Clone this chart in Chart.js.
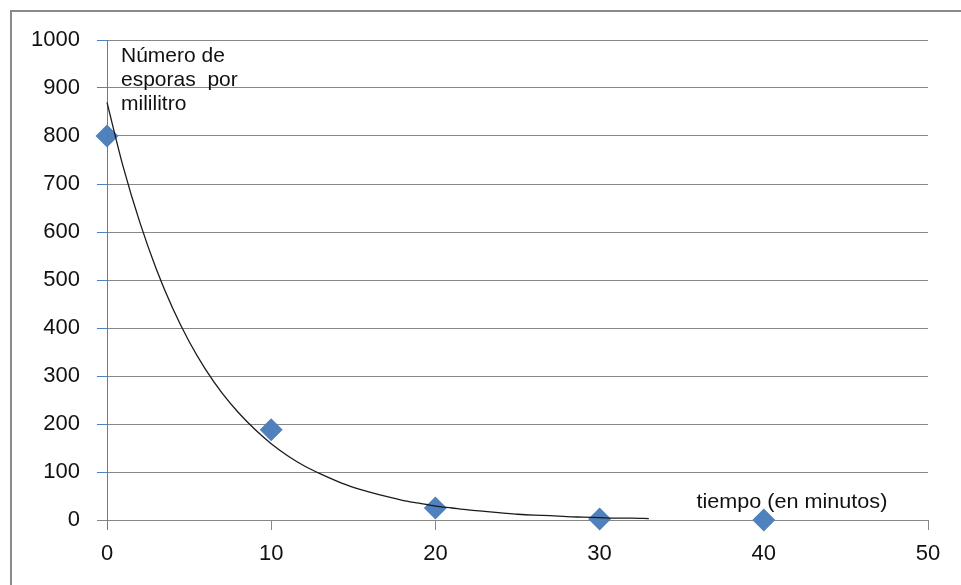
<!DOCTYPE html>
<html><head><meta charset="utf-8">
<script src="https://cdn.jsdelivr.net/npm/chart.js@4/dist/chart.umd.min.js"></script>
<style>html,body{margin:0;padding:0;background:#fff}#wrap{width:961px;height:585px}</style>
</head><body><div id="wrap"><canvas id="c" width="961" height="585"></canvas></div>
<script>
const minutes = [0, 10, 20, 30, 40];
const spores = [800, 188, 25, 2, 0];
const trendX = [0,1,2,3,4,5,6,7,8,9,10,11,12,13,14,15,16,17,18,19,20,21,22,23,24,25,26,27,28,29,30,31,32,33];
const trendY = [870,734,620,523,441,372,314,265,224,189,159,134,113,96,81,68,58,49,41,35,29,25,21,18,15,12,10,9,7,6,5,4,4,3];
const xTicks = [0,10,20,30,40,50];
const yTicks = [0,100,200,300,400,500,600,700,800,900,1000];
const yTitle = ['Número de', 'esporas  por', 'mililitro'];
const xTitle = 'tiempo (en minutos)';

const BLUE = '#4F81BD';
const GRID = '#878787';
const FONT = '"Liberation Sans", Arial, sans-serif';

const framePlugin = {
  id: 'frame',
  beforeDraw(chart) {
    const ctx = chart.ctx;
    ctx.save();
    ctx.fillStyle = '#fff';
    ctx.fillRect(0, 0, chart.width, chart.height);
    ctx.strokeStyle = '#8a8a8a';
    ctx.lineWidth = 2;
    ctx.beginPath();
    ctx.moveTo(11, chart.height + 2);
    ctx.lineTo(11, 11);
    ctx.lineTo(chart.width + 2, 11);
    ctx.stroke();
    ctx.restore();
  },
  afterDraw(chart) {
    const ctx = chart.ctx;
    const xs = chart.scales.x, ys = chart.scales.y;
    ctx.save();
    ctx.fillStyle = '#111';
    ctx.font = '21px ' + FONT;
    ctx.textBaseline = 'middle';
    ctx.textAlign = 'left';
    const x0 = xs.getPixelForValue(0) + 14;
    const yStart = ys.getPixelForValue(1000) + 16;
    yTitle.forEach((t, i) => ctx.fillText(t, x0, yStart + i * 24));
    ctx.font = '20px ' + FONT;
    ctx.save();
    ctx.translate(xs.getPixelForValue(35.9), ys.getPixelForValue(0) - 18);
    ctx.scale(1.08, 1);
    ctx.fillText(xTitle, 0, 0);
    ctx.restore();
    ctx.restore();
  }
};

new Chart(document.getElementById('c'), {
  type: 'scatter',
  data: {
    datasets: [
      {
        type: 'line',
        data: trendX.map((x, i) => ({x, y: trendY[i]})),
        borderColor: '#1a1a1a',
        borderWidth: 1.3,
        pointRadius: 0,
        tension: 0.4,
        cubicInterpolationMode: 'monotone',
        fill: false,
        order: 0
      },
      {
        data: minutes.map((x, i) => ({x, y: spores[i]})),
        pointStyle: 'rectRot',
        pointRadius: 11.5,
        pointHoverRadius: 11.5,
        backgroundColor: BLUE,
        borderColor: BLUE,
        borderWidth: 0,
        order: 1
      }
    ]
  },
  options: {
    responsive: false,
    animation: false,
    events: [],
    clip: false,
    layout: { padding: { top: 40, right: 33, left: 0, bottom: 0 } },
    plugins: { legend: { display: false }, tooltip: { enabled: false } },
    scales: {
      x: {
        type: 'linear', min: 0, max: 50,
        afterBuildTicks: s => { s.ticks = xTicks.map(v => ({value: v})); },
        afterFit: s => { s.height = 65; },
        grid: {
          drawOnChartArea: false, drawTicks: true, tickLength: 10,
          tickColor: c => c.tick && c.tick.value === 0 ? BLUE : GRID
        },
        border: { color: GRID, width: 1 },
        ticks: { color: '#111', font: { family: FONT, size: 22 }, padding: 11, maxRotation: 0,
                 callback: v => String(v) }
      },
      y: {
        type: 'linear', min: 0, max: 1000,
        afterBuildTicks: s => { s.ticks = yTicks.map(v => ({value: v})); },
        afterFit: s => { s.width = 107; },
        grid: {
          color: GRID, lineWidth: 1, drawTicks: true, tickLength: 10,
          tickColor: c => c.tick && c.tick.value === 0 ? GRID : BLUE
        },
        border: { color: BLUE, width: 1 },
        ticks: { color: '#111', font: { family: FONT, size: 22 }, padding: 17,
                 callback: v => String(v) }
      }
    }
  },
  plugins: [framePlugin]
});
</script>
</body></html>
